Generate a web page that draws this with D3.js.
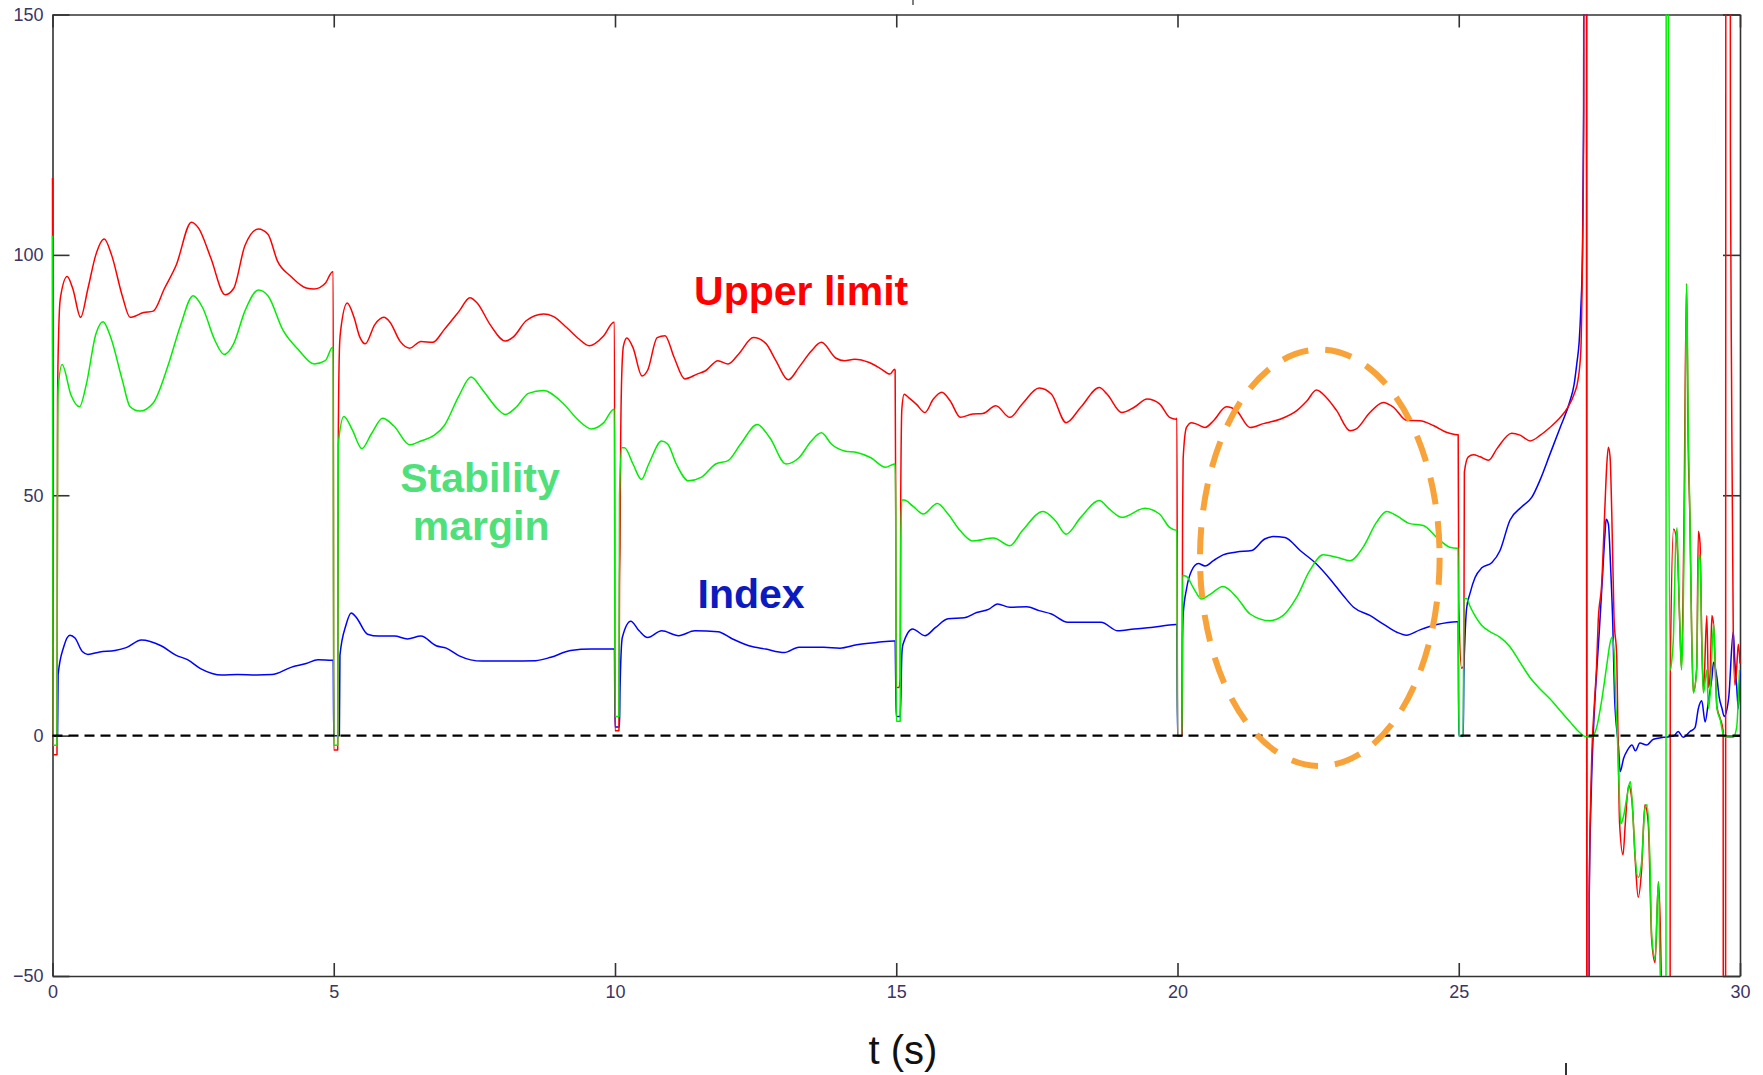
<!DOCTYPE html>
<html>
<head>
<meta charset="utf-8">
<script src="https://cdn.jsdelivr.net/npm/d3@7"></script>
<style>
  html, body { margin: 0; padding: 0; background: #ffffff; }
  svg { display: block; }
  .tick text { font-family: "Liberation Sans", Arial, sans-serif; font-size: 18px; fill: #3b3563; }
</style>
</head>
<body>
<svg id="chart" width="1763" height="1075"></svg>
<script>
// Time axis and value axis ticks
const xTicks = [0, 5, 10, 15, 20, 25, 30];
const yTicks = [-50, 0, 50, 100, 150];

// Upper limit, [t (s), value]
const upperLimit = [
  [0, 116], [0.01, -4], [0.08, -4], [0.09, 70], [0.11, 84], [0.14, 91], [0.26, 95.5], [0.36, 93],
  [0.5, 87], [0.63, 93], [0.77, 100], [0.92, 103.3], [1.05, 100], [1.24, 91.5], [1.38, 87],
  [1.62, 88], [1.79, 88.3], [1.99, 93], [2.2, 97.9], [2.47, 106.8], [2.6, 105.5], [2.81, 99.5],
  [3.07, 91.7], [3.22, 93], [3.42, 101.9], [3.66, 105.4], [3.83, 104.3], [4.0, 98.7], [4.24, 95.5],
  [4.51, 93.1], [4.65, 92.9], [4.85, 94.1], [4.98, 96.5],
  [4.99, 96.5], [5.0, -3], [5.07, -3], [5.08, 60], [5.1, 80], [5.12, 84], [5.24, 90], [5.36, 87],
  [5.46, 83], [5.56, 81.5], [5.73, 85.5], [5.89, 87], [6.0, 86], [6.18, 82], [6.35, 80.6],
  [6.55, 82], [6.76, 81.8], [6.96, 84.4], [7.23, 88.3], [7.42, 91.1], [7.55, 90], [7.78, 85.5],
  [8.05, 82.1], [8.2, 83], [8.42, 86.3], [8.73, 87.7], [8.9, 87.2], [9.14, 84.9], [9.36, 82.5],
  [9.54, 81.1], [9.8, 83.2], [9.98, 86],
  [9.99, 86], [10.0, 1], [10.07, 1], [10.08, 31], [10.09, 40], [10.1, 60], [10.12, 75], [10.15, 81],
  [10.21, 82.7], [10.32, 80.7], [10.48, 74.8], [10.58, 76], [10.75, 82.8], [10.89, 83.2],
  [11.05, 78.7], [11.24, 74.2], [11.46, 75.2], [11.61, 75.9], [11.83, 78], [12.01, 77.3],
  [12.2, 79.4], [12.46, 82.8], [12.68, 81.6], [12.86, 78], [13.08, 74], [13.27, 76.6], [13.49, 80],
  [13.67, 81.8], [13.93, 78.5], [14.08, 78], [14.26, 78.3], [14.52, 77.6], [14.74, 76.2],
  [14.89, 75.2], [14.97, 76.2],
  [14.98, 76], [14.99, 48], [15.0, 10], [15.05, 10], [15.07, 12], [15.08, 50], [15.1, 68],
  [15.14, 71], [15.22, 70.3], [15.36, 68.9], [15.51, 67.2], [15.66, 70], [15.81, 71.4],
  [15.96, 69.6], [16.14, 66.2], [16.36, 66.9], [16.54, 67], [16.77, 68.6], [17.02, 66.2],
  [17.24, 69], [17.54, 72.3], [17.76, 71], [18.02, 65.1], [18.28, 68.3], [18.61, 72.4],
  [18.75, 71], [19.01, 67.2], [19.23, 68.3], [19.46, 70], [19.68, 69], [19.86, 66.2], [19.98, 65.8],
  [19.99, 66], [20.0, 0], [20.08, 0], [20.09, 45], [20.1, 57.5], [20.16, 64.1], [20.25, 65.1],
  [20.34, 64.8], [20.49, 64.1], [20.64, 65.5], [20.87, 68.4], [21.05, 67.6], [21.29, 64.1],
  [21.53, 64.9], [21.82, 65.8], [22.12, 67.6], [22.3, 69.6], [22.47, 71.9], [22.65, 70.3],
  [22.83, 67.6], [23.07, 63.4], [23.18, 63.8], [23.42, 67.2], [23.66, 69.3], [23.84, 68.3],
  [24.07, 65.6], [24.31, 65.5], [24.55, 64.5], [24.78, 63.1], [24.97, 62.6],
  [24.99, 62.6], [25.0, 28], [25.05, 14], [25.09, 14.5], [25.1, 54.8], [25.17, 58], [25.26, 58.4],
  [25.38, 58], [25.53, 57.3], [25.68, 59.7], [25.94, 62.9], [26.09, 62.5], [26.27, 61.3],
  [26.45, 62.5], [26.62, 64.1], [26.8, 66.1], [26.95, 68.5], [27.05, 71], [27.12, 74], [27.17, 80],
  [27.2, 100], [27.22, 124], [27.23, 300], [27.27, 300], [27.28, -300], [27.31, -300], [27.32, -33],
  [27.36, -6.4], [27.41, 6.4], [27.45, 14.4], [27.48, 24], [27.54, 31.3], [27.6, 48], [27.63, 56],
  [27.66, 60], [27.69, 58], [27.72, 46.5], [27.76, 24.8], [27.81, 16], [27.83, 0.8], [27.86, -18.4],
  [27.92, -24.8], [27.96, -18.4], [28.02, -10.4], [28.08, -13.6], [28.14, -26.4], [28.19, -33.6],
  [28.25, -28], [28.31, -14.4], [28.37, -18.4], [28.43, -42.4], [28.49, -47.2], [28.55, -30.4],
  [28.6, -50], [28.62, -300], [28.75, -300], [28.76, 12], [28.82, 43], [28.88, 40], [28.93, 23],
  [28.96, 14], [29.0, 40], [29.05, 94], [29.08, 60], [29.11, 45], [29.14, 22], [29.17, 9],
  [29.23, 14], [29.26, 42.5], [29.29, 40], [29.32, 20], [29.35, 9], [29.41, 25], [29.44, 10],
  [29.47, 13], [29.5, 25], [29.53, 23], [29.59, 6], [29.65, 3.5], [29.7, 1], [29.71, -300],
  [29.74, -300], [29.75, 300], [29.82, 300], [29.83, 120], [29.85, 74], [29.88, 21.6],
  [29.91, 10.5], [29.94, 14], [29.97, 19], [30.0, 15]
];

// Stability margin, [t (s), value]
const stabilityMargin = [
  [0, 104], [0.01, -2], [0.08, -2], [0.09, 60], [0.1, 72], [0.17, 77.2], [0.33, 70.8], [0.48, 68.4],
  [0.6, 73], [0.77, 83.5], [0.9, 86.1], [1.03, 83], [1.24, 74], [1.38, 68.4], [1.55, 67.5],
  [1.79, 69.2], [2.06, 77.2], [2.27, 85.1], [2.5, 91.5], [2.67, 89], [2.88, 82.4], [3.05, 79.3],
  [3.22, 81.5], [3.42, 88.3], [3.66, 92.7], [3.83, 91.5], [4.1, 84.3], [4.37, 80.3], [4.65, 77.3],
  [4.85, 78], [4.98, 80.8],
  [4.99, 80.8], [5.0, -2], [5.07, -2], [5.08, 60.5], [5.18, 66.4], [5.33, 63.6], [5.5, 59.7],
  [5.67, 62.8], [5.87, 66], [6.07, 64.4], [6.35, 60.5], [6.55, 61.3], [6.79, 62.5], [6.96, 64.4],
  [7.23, 70.8], [7.44, 74.6], [7.64, 72], [7.91, 68], [8.05, 66.8], [8.25, 68.4], [8.46, 71.2],
  [8.73, 71.8], [9.07, 69.2], [9.36, 65.5], [9.58, 63.8], [9.8, 65.1], [9.98, 67.9],
  [9.99, 67.9], [10.0, 4], [10.07, 4], [10.08, 50], [10.12, 59.9], [10.17, 59.9], [10.32, 56.5],
  [10.47, 53.3], [10.6, 56.5], [10.83, 61.3], [10.94, 60.6], [11.09, 56.5], [11.31, 53],
  [11.53, 53.7], [11.79, 56.5], [12.01, 57.2], [12.23, 60.6], [12.53, 64.7], [12.75, 62],
  [13.04, 56.5], [13.27, 57.8], [13.49, 61.3], [13.67, 63], [13.85, 60.6], [14.08, 59.2],
  [14.3, 58.9], [14.55, 57.8], [14.81, 55.8], [14.97, 56.5],
  [14.98, 56.5], [14.99, 47.8], [15.0, 3], [15.07, 3], [15.08, 40], [15.1, 49], [15.14, 49],
  [15.29, 47.8], [15.48, 46.1], [15.73, 48.3], [15.92, 46.1], [16.14, 42.6], [16.36, 40.5],
  [16.73, 41.1], [17.02, 39.5], [17.24, 42.6], [17.61, 46.6], [17.83, 44.7], [18.02, 41.9],
  [18.28, 45.4], [18.61, 48.9], [18.79, 47.1], [19.01, 45.4], [19.42, 47.3], [19.68, 46.1],
  [19.86, 43.3], [19.98, 42.7],
  [19.99, 42.7], [20.0, 0], [20.08, 0], [20.09, 33.3], [20.16, 33.1], [20.28, 30.8], [20.43, 28.4],
  [20.58, 29.4], [20.81, 31], [21.05, 28.8], [21.29, 25.3], [21.64, 23.9], [21.88, 25],
  [22.12, 28.8], [22.35, 34.3], [22.59, 37.6], [22.83, 37.1], [23.07, 36.4], [23.3, 39.2],
  [23.54, 44.4], [23.72, 46.6], [23.9, 45.7], [24.13, 44.1], [24.37, 43.7], [24.61, 41.2],
  [24.84, 39.2], [24.97, 39],
  [24.99, 39], [25.0, 0], [25.08, 0], [25.09, 28.5], [25.14, 28.5], [25.2, 26.9], [25.29, 24.9],
  [25.41, 22.9], [25.56, 21.6], [25.73, 20.5], [25.91, 18.5], [26.09, 15.25], [26.27, 12.05],
  [26.45, 9.65], [26.62, 7.65], [26.8, 5.25], [26.98, 2.85], [27.13, 0.85], [27.25, -0.2],
  [27.36, -0.35], [27.45, 1.65], [27.54, 7.25], [27.63, 14.5], [27.69, 19.25], [27.73, 20.5],
  [27.76, 17.6], [27.79, 7.2], [27.82, 0], [27.85, -10.35], [27.88, -18.35], [27.93, -16.75],
  [27.99, -12.75], [28.05, -9.55], [28.09, -15.15], [28.13, -24], [28.19, -29.5], [28.25, -26.4],
  [28.31, -15.2], [28.35, -14.4], [28.4, -26.4], [28.43, -41.5], [28.49, -46.4], [28.55, -30.4],
  [28.58, -48.8], [28.62, -60], [28.68, -300], [28.69, 300], [28.72, 300], [28.73, 84],
  [28.76, 13.65], [28.79, 16], [28.82, 21.6], [28.85, 37.65], [28.88, 43.25], [28.9, 36],
  [28.93, 23.25], [28.96, 13.65], [28.99, 25], [29.02, 53.65], [29.05, 94], [29.08, 64],
  [29.11, 45.65], [29.14, 21.6], [29.17, 8.85], [29.23, 13.65], [29.26, 36], [29.29, 37.65],
  [29.32, 20], [29.35, 8.85], [29.41, 13.65], [29.44, 5.65], [29.47, 8.85], [29.53, 23.25],
  [29.56, 15], [29.59, 5.65], [29.65, 3.25], [29.71, 0], [29.77, -0.35], [29.88, -0.35],
  [29.94, 1.65], [29.99, 13.65]
];

// Index, [t (s), value]
const indexValue = [
  [0, 0], [0.09, 0], [0.1, 12.7], [0.2, 18.5], [0.31, 20.9], [0.4, 20.3], [0.53, 17.5], [0.63, 16.9],
  [0.84, 17.4], [1.11, 17.7], [1.31, 18.3], [1.58, 19.9], [1.93, 18.7], [2.2, 16.7], [2.4, 15.8],
  [2.64, 13.9], [3.01, 12.6], [3.29, 12.7], [3.63, 12.6], [3.9, 12.7], [4.24, 14.2], [4.51, 15],
  [4.72, 15.8], [4.97, 15.7],
  [4.99, 15.7], [5.0, 0], [5.1, 0], [5.11, 16.7], [5.22, 23.1], [5.31, 25.5], [5.4, 24.6],
  [5.6, 21.1], [5.8, 20.7], [6.08, 20.7], [6.31, 20.1], [6.55, 20.7], [6.82, 18.7], [7.0, 18.2],
  [7.23, 16.6], [7.64, 15.5], [8.12, 15.5], [8.59, 15.6], [8.86, 16.3], [9.21, 17.7], [9.58, 18],
  [9.95, 18],
  [9.99, 18], [10.0, 1.8], [10.08, 1.8], [10.09, 10], [10.13, 20.4], [10.28, 23.8], [10.43, 21.8],
  [10.58, 20.4], [10.83, 21.8], [11.13, 20.8], [11.42, 21.8], [11.83, 21.6], [12.09, 20.1],
  [12.38, 18.7], [12.68, 18], [13.01, 17.3], [13.27, 18.4], [13.71, 18.4], [14.0, 18.2],
  [14.3, 18.9], [14.67, 19.4], [14.96, 19.7],
  [14.98, 19.7], [14.99, 11.8], [15.0, 4], [15.07, 4], [15.08, 7], [15.1, 17], [15.12, 19],
  [15.29, 22.2], [15.51, 20.8], [15.7, 22.5], [15.92, 24.3], [16.21, 24.5], [16.43, 25.6],
  [16.65, 26.3], [16.8, 27.4], [17.02, 26.7], [17.32, 26.8], [17.54, 26], [17.76, 25.3],
  [18.05, 23.6], [18.35, 23.6], [18.64, 23.6], [18.94, 21.8], [19.23, 22.2], [19.53, 22.5],
  [19.97, 23.1],
  [19.99, 23.1], [20.0, 0], [20.08, 0], [20.09, 20], [20.1, 25], [20.16, 30.5], [20.25, 34.3],
  [20.37, 35.8], [20.49, 35.3], [20.64, 36.4], [20.81, 37.6], [21.05, 38.2], [21.32, 38.5],
  [21.55, 40.9], [21.7, 41.4], [21.91, 41.2], [22.18, 38.5], [22.47, 35.7], [22.71, 32.6],
  [22.95, 29.1], [23.13, 26.7], [23.42, 25], [23.66, 23.2], [23.9, 21.5], [24.07, 20.9],
  [24.31, 22], [24.61, 23.1], [24.97, 23.7],
  [24.99, 23.7], [25.0, 0], [25.08, 0], [25.09, 12], [25.11, 20], [25.14, 26.5], [25.2, 29.6],
  [25.29, 32.9], [25.41, 34.9], [25.59, 36], [25.73, 38.4], [25.91, 44.8], [26.12, 47.6],
  [26.3, 49.6], [26.45, 53.3], [26.62, 58.5], [26.8, 64], [26.98, 69.7], [27.05, 73], [27.1, 77.5],
  [27.14, 81.8], [27.17, 88.7], [27.2, 100.5], [27.22, 130], [27.23, 300], [27.27, 300],
  [27.28, -300], [27.31, -300], [27.32, -33], [27.36, -10], [27.41, 5], [27.45, 13], [27.5, 22],
  [27.55, 32], [27.6, 42], [27.62, 45], [27.66, 44], [27.7, 35], [27.74, 22.5], [27.77, 8],
  [27.84, -2.35], [27.87, -7.5], [27.93, -4.75], [28.0, -3], [28.08, -1.95], [28.14, -3.15],
  [28.22, -1.55], [28.34, -1.95], [28.46, -0.75], [28.64, -0.35], [28.82, -0.1], [28.9, 0.85],
  [28.99, -0.35], [29.11, 0.85], [29.2, 1.65], [29.26, 5.65], [29.32, 7.25], [29.38, 2.85],
  [29.44, 7.25], [29.5, 12], [29.53, 15.25], [29.59, 12], [29.63, 8], [29.68, 5.65], [29.72, 4],
  [29.8, 8], [29.88, 21.6], [29.91, 15], [29.94, 10.4], [29.97, 5.6], [30.0, 13.6]
];

// Highlighted region: centre (t, value) and half-extents
const highlight = { t: 22.53, v: 37, dt: 2.13, dv: 43.3 };

const svg = d3.select("#chart");
const margin = { left: 52.5, right: 23, top: 14.5, bottom: 99 };
const W = 1763, H = 1075;

const x = d3.scaleLinear().domain([0, 30]).range([margin.left, W - margin.right]);
const y = d3.scaleLinear().domain([-50, 150]).range([H - margin.bottom, margin.top]);

svg.append("rect").attr("width", W).attr("height", H).attr("fill", "#ffffff");

// Plot area clip
svg.append("defs").append("clipPath").attr("id", "plotClip")
  .append("rect")
  .attr("x", x(0) - 2).attr("y", y(150))
  .attr("width", x(30) - x(0) + 4).attr("height", y(-50) - y(150));

// Axes box with inward ticks on all four sides
const axisColor = "#333333";
const gx = svg.append("g").attr("transform", `translate(0,${y(-50)})`)
  .call(d3.axisBottom(x).tickValues(xTicks).tickSizeInner(-13).tickSizeOuter(0).tickPadding(9));
const gxTop = svg.append("g").attr("transform", `translate(0,${y(150)})`)
  .call(d3.axisTop(x).tickValues(xTicks).tickSizeInner(-13).tickSizeOuter(0).tickFormat(""));
const gy = svg.append("g").attr("transform", `translate(${x(0)},0)`)
  .call(d3.axisLeft(y).tickValues(yTicks).tickSizeInner(-17).tickSizeOuter(0).tickPadding(9));
const gyRight = svg.append("g").attr("transform", `translate(${x(30)},0)`)
  .call(d3.axisRight(y).tickValues(yTicks).tickSizeInner(-17).tickSizeOuter(0).tickFormat(""));

[gx, gxTop, gy, gyRight].forEach(g => {
  g.select(".domain").attr("stroke", axisColor).attr("stroke-width", 1.6);
  g.selectAll(".tick line").attr("stroke", axisColor).attr("stroke-width", 1.6);
});

// Series (index underneath, stability margin on top)
const line = d3.line()
  .x(d => x(d[0]))
  .y(d => y(d[1]))
  .curve(d3.curveMonotoneX);

const plot = svg.append("g").attr("clip-path", "url(#plotClip)");
const series = [
  { data: indexValue, color: "#0000ff" },
  { data: upperLimit, color: "#ff0000" },
  { data: stabilityMargin, color: "#00ee00" }
];
plot.selectAll("path.series").data(series).join("path")
  .attr("class", "series")
  .attr("d", d => line(d.data))
  .attr("fill", "none")
  .attr("stroke", d => d.color)
  .attr("stroke-width", 1.5)
  .attr("stroke-linejoin", "round");

// Zero reference line
svg.append("line")
  .attr("x1", x(0)).attr("x2", x(30))
  .attr("y1", y(0)).attr("y2", y(0))
  .attr("stroke", "#000000")
  .attr("stroke-width", 2.2)
  .attr("stroke-dasharray", "10,6");

// Dashed ellipse around the highlighted interval
svg.append("ellipse")
  .attr("cx", x(highlight.t)).attr("cy", y(highlight.v))
  .attr("rx", x(highlight.t + highlight.dt) - x(highlight.t))
  .attr("ry", y(highlight.v - highlight.dv) - y(highlight.v))
  .attr("fill", "none")
  .attr("stroke", "#f8a23a")
  .attr("stroke-width", 6)
  .attr("stroke-dasharray", "27,17");

// Series labels
const labelFont = "'Liberation Sans', Arial, Helvetica, sans-serif";
const labels = [
  { text: "Upper limit", t: 13.31, v: 89.6, color: "#ff0000" },
  { text: "Stability", t: 7.6, v: 50.6, color: "#50e07a" },
  { text: "margin", t: 7.62, v: 40.7, color: "#50e07a" },
  { text: "Index", t: 12.42, v: 26.6, color: "#0b1bbf" }
];
svg.selectAll("text.label").data(labels).join("text")
  .attr("class", "label")
  .attr("x", d => x(d.t)).attr("y", d => y(d.v))
  .attr("text-anchor", "middle")
  .attr("font-family", labelFont)
  .attr("font-weight", "bold")
  .attr("font-size", 41)
  .attr("fill", d => d.color)
  .text(d => d.text);

// Axis title
svg.append("text")
  .attr("x", 903).attr("y", 1064)
  .attr("text-anchor", "middle")
  .attr("font-family", labelFont)
  .attr("font-size", 40)
  .attr("fill", "#111111")
  .text("t (s)");

// short marks at the top and bottom edges of the figure
svg.append("line")
  .attr("x1", 1566).attr("x2", 1566).attr("y1", 1063).attr("y2", 1075)
  .attr("stroke", "#333333").attr("stroke-width", 2);
svg.append("line")
  .attr("x1", 913).attr("x2", 913).attr("y1", 0).attr("y2", 5)
  .attr("stroke", "#555555").attr("stroke-width", 1.5);
</script>
</body>
</html>
